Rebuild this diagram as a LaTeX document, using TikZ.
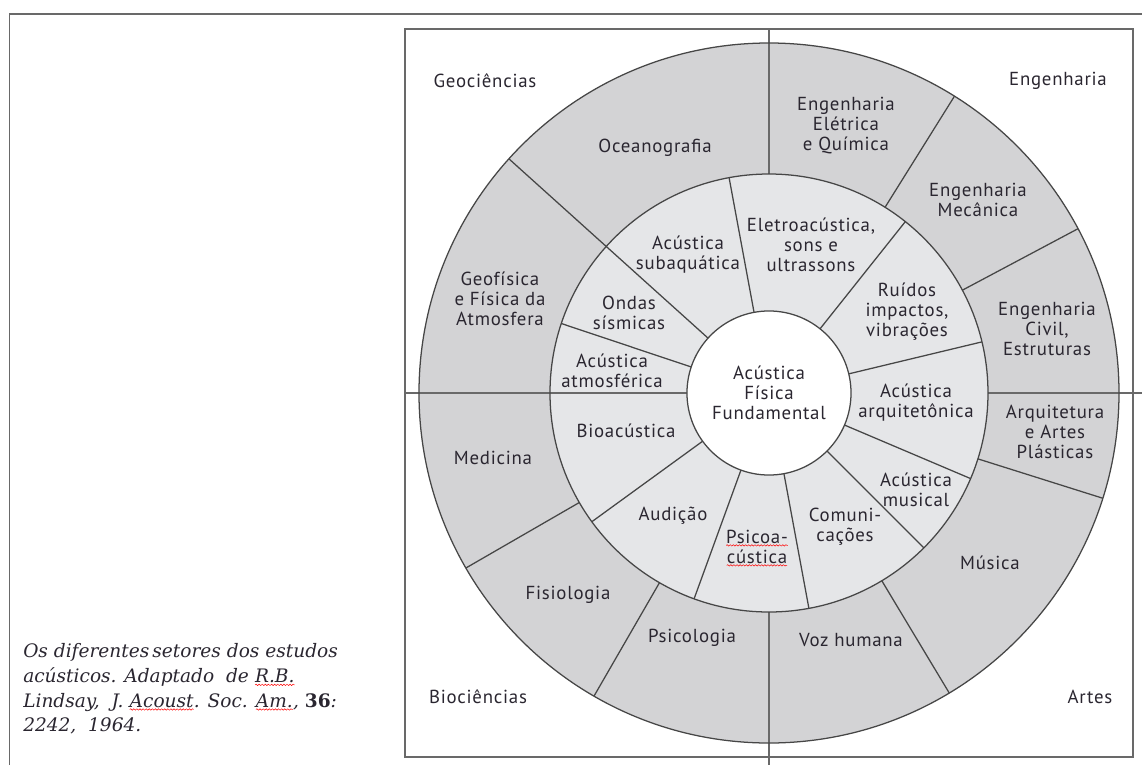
\documentclass[tikz,border=0pt]{standalone}
\usepackage{fontspec}
\setmainfont[LetterSpace=4]{PT Sans}
\newfontfamily\captionfont{DejaVu Serif}
\usetikzlibrary{positioning, decorations.pathmorphing}
\definecolor{ringdark}{RGB}{211,211,213}
\definecolor{ringlight}{RGB}{229,230,232}
\definecolor{edgegray}{RGB}{70,70,70}
\definecolor{framegray}{RGB}{105,105,105}
\definecolor{inkgray}{RGB}{42,38,48}
\newcommand{\spellwave}[1]{\tikz[baseline=(w.base)]{\node[inner sep=0pt, outer sep=0pt] (w) {#1};
  \draw[red, line width=0.35pt, decorate, decoration={snake, amplitude=0.5pt, segment length=2.2pt}]
    ([yshift=-1.5pt]w.south west) -- ([yshift=-1.5pt]w.south east);}}

\begin{document}
\begin{tikzpicture}[x=0.025cm, y=0.025cm,
    frame/.style={draw=framegray, line width=1.3pt},
    sector/.style={draw=edgegray, line width=0.9pt},
    field/.style={font=\fontsize{13.4}{14.2}\selectfont, text=inkgray, align=center, inner sep=0pt},
    core/.style={circle, draw=edgegray, line width=0.9pt, fill=white, minimum size=4.1cm, field}
  ]
  \useasboundingbox (-769,-372) rectangle (373,393);

  \draw[frame] (-759.5,-372) -- (-759.5,379) -- (373,379);
  \draw[frame] (-364,-364) rectangle (364,364);

  \fill[ringdark] (0,0) circle (350);
  \fill[ringlight] (0,0) circle (219);

  \draw[frame] (0,364) -- (0,219);
  \draw[frame] (0,-219) -- (0,-372);
  \draw[frame] (-364,0) -- (-82,0);
  \draw[frame] (219,0) -- (373,0);

  \foreach \a in {28,58,210,240,301,342.5}
    \draw[sector] (\a:219) -- (\a:350);
  \foreach \a in {13.5,51.5,100.5,161.5,216,250,280.5,315,337}
    \draw[sector] (\a:82) -- (\a:219);
  \draw[sector] (138:82) -- (138:350);
  \draw[sector] (0,0) circle (350);
  \draw[sector] (0,0) circle (219);

  \node[core] (fund) at (0,0) {Acústica\\Física\\Fundamental};

  \node[field] (geo) at (-284,312) {Geociências};
  \node[field] (eng) at (289,312) {Engenharia};
  \node[field] (bio) at (-291,-304) {Biociências};
  \node[field] (art) at (321,-304) {Artes};

  \node[field] (ocean) at (-114,245) {Oceanografia};
  \node[field] (eleq) at (77,267) {Engenharia\\Elétrica\\e Química};
  \node[field] (mec) at (209,193) {Engenharia\\Mecânica};
  \node[field] (civil) at (278,64) {Engenharia\\Civil,\\Estruturas};
  \node[field] (geof) at (-269,94) {Geofísica\\e Física da\\Atmosfera};
  \node[field] (med) at (-276,-65) {Medicina};
  \node[field] (fisio) at (-201,-202) {Fisiologia};
  \node[field] (psico) at (-77,-245) {Psicologia};
  \node[field] (voz) at (82,-247) {Voz humana};
  \node[field] (mus) at (221,-170) {Música};
  \node[field] (arqart) at (286,-39) {Arquitetura\\e Artes\\Plásticas};

  \node[field] (eletro) at (42,148) {Eletroacústica,\\sons e\\ultrassons};
  \node[field] (subaq) at (-81,138) {Acústica\\subaquática};
  \node[field] (ruido) at (138,81) {Ruídos\\impactos,\\vibrações};
  \node[field] (ondas) at (-140,80) {Ondas\\sísmicas};
  \node[field] (atmos) at (-157,22) {Acústica\\atmosférica};
  \node[field] (arqui) at (147,-10) {Acústica\\arquitetônica};
  \node[field] (bioac) at (-143,-38) {Bioacústica};
  \node[field] (audi) at (-96,-123) {Audição};
  \node[field] (psicoac) at (-12,-155) {\spellwave{Psicoa-}\\\spellwave{cústica}};
  \node[field] (comun) at (76,-134) {Comuni-\\cações};
  \node[field] (music) at (147,-97) {Acústica\\musical};

  \node[anchor=west, align=left, inner sep=0pt, text=inkgray,
        font=\captionfont\itshape\fontsize{13.2}{17.5}\selectfont] (caption) at (-746,-296)
    {Os diferentes\,setores dos estudos\\
     acústicos. Adaptado\ \ de \spellwave{R.B.}\\
     Lindsay,\ \ J. \spellwave{Acoust}. Soc. \spellwave{Am.}, {\upshape\bfseries 36}:\\
     2242,\ \ 1964.};
\end{tikzpicture}
\end{document}
